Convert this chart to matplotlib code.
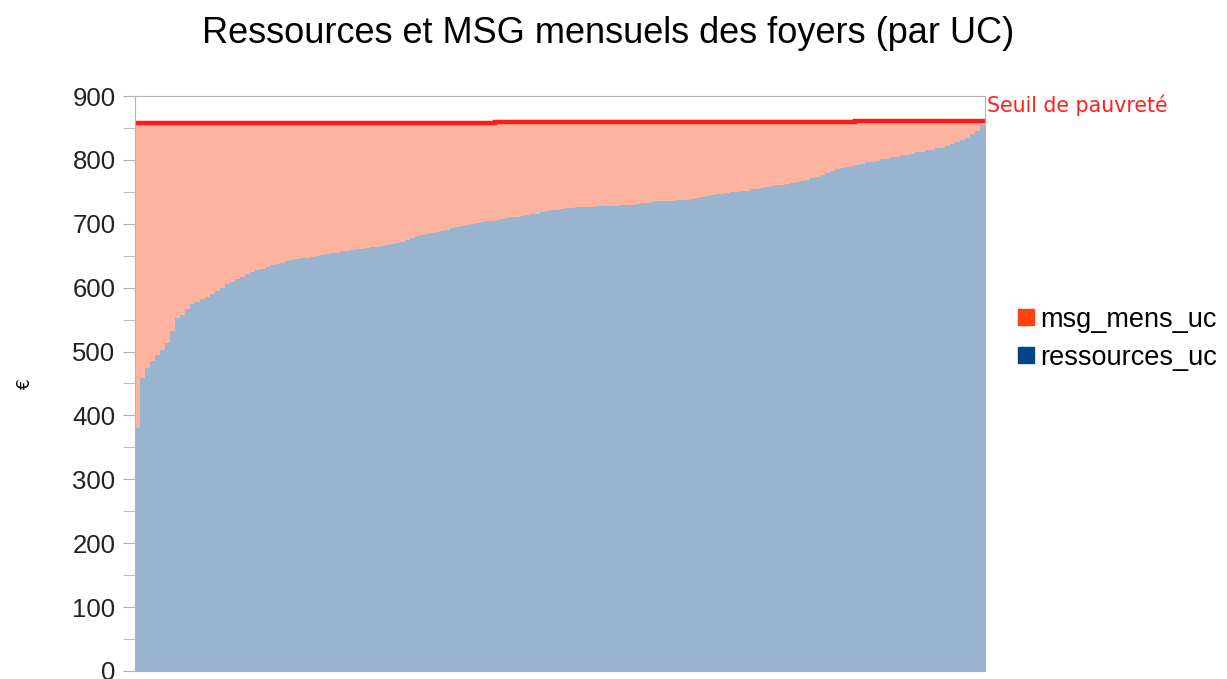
import numpy as np
import matplotlib.pyplot as plt
from matplotlib.lines import Line2D

# ressources par UC, triées (une barre par foyer)
ressources_uc = [
    380, 458, 474, 486, 495, 503, 514, 532, 552, 557,
    566, 575, 578, 582, 586, 590, 595, 600, 605, 609,
    613, 617, 621, 624, 627, 630, 633, 635, 637, 639,
    641, 643, 645, 646, 647, 648, 649, 651, 652, 654,
    655, 657, 658, 659, 660, 661, 662, 663, 664, 665,
    667, 668, 670, 672, 675, 678, 681, 683, 684, 686,
    687, 689, 691, 693, 695, 697, 698, 700, 701, 703,
    704, 705, 706, 708, 709, 710, 711, 712, 713, 715,
    716, 718, 720, 721, 722, 723, 724, 725, 726, 726,
    727, 727, 728, 728, 728, 728, 728, 729, 729, 730,
    731, 732, 733, 734, 735, 736, 736, 736, 737, 737,
    738, 739, 741, 742, 743, 745, 746, 747, 748, 749,
    750, 751, 752, 754, 755, 756, 758, 759, 760, 761,
    763, 764, 765, 767, 769, 771, 774, 777, 780, 783,
    785, 787, 789, 791, 792, 794, 796, 797, 799, 801,
    802, 804, 805, 807, 808, 810, 812, 813, 815, 816,
    818, 819, 822, 825, 828, 831, 834, 840, 846, 854,
]
# seuil de pauvreté : niveaux successifs et nombre de foyers à chaque niveau
seuil_levels = [857, 858, 859, 860, 861]
seuil_counts = [17, 55, 50, 22, 26]

ressources = np.array(ressources_uc)
seuil = np.repeat(seuil_levels, seuil_counts)
msg_mens_uc = seuil - ressources
n = len(ressources)
x = np.arange(n)

blue = "#004586"
orange = "#ff420e"

fig = plt.figure(figsize=(12.27, 6.79), dpi=100)
ax = fig.add_axes([0.110, 0.0118, 0.6928, 0.8468])

ax.bar(x, ressources, width=0.9, color=blue, alpha=0.4, linewidth=0)
ax.bar(x, msg_mens_uc, bottom=ressources, width=0.9, color=orange, alpha=0.4, linewidth=0)
ax.stairs(seuil, np.arange(n + 1) - 0.5, baseline=None, color="#ff1a1a", linewidth=3.2)

ax.set_xlim(-0.5, n - 0.5)
ax.set_ylim(0, 900)
ax.set_yticks(np.arange(0, 901, 100))
ax.set_yticks(np.arange(50, 900, 100), minor=True)
ax.set_xticks([])
ax.tick_params(axis="y", which="both", length=9, color="#b3b3b3", labelsize=18.5,
               pad=5, labelcolor="#222222")
for sp in ax.spines.values():
    sp.set_color("#b3b3b3")
for lab in ax.get_yticklabels():
    lab.set_fontfamily("Liberation Sans")

ax.set_ylabel("€", fontsize=12, labelpad=28)
ax.text(n - 0.2, 868, "Seuil de pauvreté", color="#ff2020", fontsize=14.8,
        va="bottom", ha="left", clip_on=False)

fig.text(0.496, 0.951, "Ressources et MSG mensuels des foyers (par UC)",
         fontfamily="Liberation Sans", fontsize=26, ha="center", va="center")

handles = [Line2D([], [], marker="s", linestyle="", color=orange, markersize=11),
           Line2D([], [], marker="s", linestyle="", color=blue, markersize=11)]
fig.legend(handles, ["msg_mens_uc", "ressources_uc"], loc="center left",
           bbox_to_anchor=(0.805, 0.501), frameon=False,
           prop={"family": "Liberation Sans", "size": 19.5},
           handletextpad=0.05, labelspacing=0.45, handlelength=1.0)

plt.savefig("out.png")
